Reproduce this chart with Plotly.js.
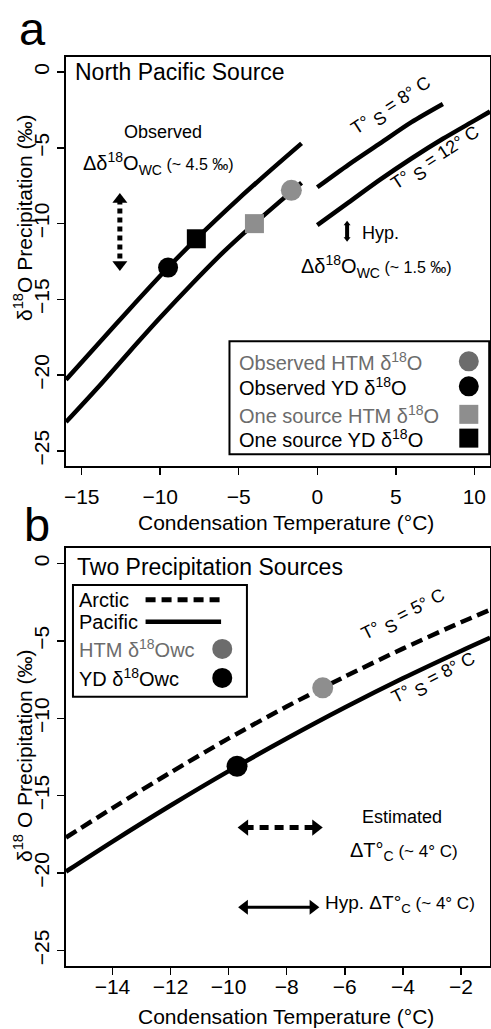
<!DOCTYPE html>
<html><head><meta charset="utf-8">
<script src="https://cdn.plot.ly/plotly-3.0.1.min.js"></script>
<style>html,body{margin:0;padding:0;background:#fff}</style>
</head><body><div id="chart" style="width:491px;height:1029px"></div>
<script>
// ---------- Panel a : North Pacific Source ----------
const aTs8LeftX  = [-16, -14, -12, -9.5, -7.7, -5, -3, -1];
const aTs8LeftY  = [-20.3, -18.0, -15.7, -12.9, -11.0, -8.35, -6.5, -4.7];
const aTs12LeftX = [-16, -14, -12, -10, -8, -6, -4, -2, -1];
const aTs12LeftY = [-23.1, -20.85, -18.5, -16.2, -14.0, -11.9, -10.0, -8.2, -7.3];
const aTs8RightX = [0, 2, 4, 6, 8];
const aTs8RightY = [-7.6, -6.1, -4.7, -3.3, -2.1];
const aTs12RightX = [0, 2, 4, 6, 8, 10, 11];
const aTs12RightY = [-10.1, -8.6, -7.1, -5.7, -4.4, -3.2, -2.6];
const aPointNames = ['Observed HTM δ<sup>18</sup>O', 'Observed YD δ<sup>18</sup>O', 'One source HTM δ<sup>18</sup>O', 'One source YD δ<sup>18</sup>O'];
const aPointX = [-1.65, -9.5, -4.0, -7.7];
const aPointY = [-7.8, -12.9, -10.0, -11.0];
const aObsArrowX = [-12.57, -12.57];
const aObsArrowY = [-8.4, -12.7];
const aHypArrowX = [1.9, 1.9];
const aHypArrowY = [-10.0, -11.0];
const aTicksX = [-15, -10, -5, 0, 5, 10];
const ticksY = [0, -5, -10, -15, -20, -25];

// ---------- Panel b : Two Precipitation Sources ----------
const bTempX = [-15.6, -14, -12, -10, -8, -6, -4, -2, -1];
const bArcticY  = [-17.7, -15.8, -13.5, -11.3, -9.24, -7.31, -5.5, -3.8, -3.0];
const bPacificY = [-19.9, -17.96, -15.63, -13.41, -11.31, -9.31, -7.42, -5.65, -4.8];
const bPointNames = ['HTM δ<sup>18</sup>Owc', 'YD δ<sup>18</sup>Owc'];
const bPointX = [-6.76, -9.71];
const bPointY = [-8.03, -13.1];
const bEstArrowX = [-9.45, -7.0];
const bEstArrowY = [-17.06, -17.06];
const bHypArrowX = [-9.45, -7.1];
const bHypArrowY = [-22.2, -22.2];
const bTicksX = [-14, -12, -10, -8, -6, -4, -2];

const FONT = '"Liberation Sans", Arial, Helvetica, sans-serif';
const GRAY = '#8e8e8e';
const GRAY_DARK = '#6c6c6c';
const LW = 4.5;
const CURVE = {color: '#000', width: LW, shape: 'spline', smoothing: 0.8};

// plot area pixel geometry
const L = 66, R = 490, T = 57, B = 966;
const px = p => (p - L) / (R - L);
const py = p => (B - p) / (B - T);

const traces = [
  {x: aTs8LeftX, y: aTs8LeftY, xaxis: 'x', yaxis: 'y', mode: 'lines', line: CURVE},
  {x: aTs12LeftX, y: aTs12LeftY, xaxis: 'x', yaxis: 'y', mode: 'lines', line: CURVE},
  {x: aTs8RightX, y: aTs8RightY, xaxis: 'x', yaxis: 'y', mode: 'lines', line: CURVE},
  {x: aTs12RightX, y: aTs12RightY, xaxis: 'x', yaxis: 'y', mode: 'lines', line: CURVE},
  {x: aPointX, y: aPointY, text: aPointNames, xaxis: 'x', yaxis: 'y', mode: 'markers',
   marker: {size: [21, 20, 19, 19], opacity: 1, symbol: ['circle', 'circle', 'square', 'square'],
            color: [GRAY, '#000', GRAY, '#000'], line: {width: 0}}},
  // observed dotted double arrow
  {x: aObsArrowX, y: aObsArrowY, xaxis: 'x', yaxis: 'y', mode: 'lines',
   line: {color: '#000', width: 5, dash: '5px,4px'}},
  {x: aObsArrowX, y: aObsArrowY, xaxis: 'x', yaxis: 'y', mode: 'markers',
   marker: {symbol: ['triangle-up', 'triangle-down'], size: 13, opacity: 1, color: '#000'}},
  // hyp small double arrow
  {x: aHypArrowX, y: aHypArrowY, xaxis: 'x', yaxis: 'y', mode: 'lines+markers',
   line: {color: '#000', width: 4}, marker: {symbol: ['triangle-up', 'triangle-down'], size: 6, opacity: 1, color: '#000'}},

  // panel b
  {x: bTempX, y: bArcticY, xaxis: 'x2', yaxis: 'y2', mode: 'lines', line: Object.assign({}, CURVE, {dash: '12px,6px'})},
  {x: bTempX, y: bPacificY, xaxis: 'x2', yaxis: 'y2', mode: 'lines', line: CURVE},
  {x: bPointX, y: bPointY, text: bPointNames, xaxis: 'x2', yaxis: 'y2', mode: 'markers',
   marker: {size: 21, opacity: 1, symbol: 'circle', color: [GRAY, '#000'], line: {width: 0}}},
  {x: bEstArrowX, y: bEstArrowY, xaxis: 'x2', yaxis: 'y2', mode: 'lines',
   line: {color: '#000', width: 5, dash: '9px,6px'}},
  {x: bEstArrowX, y: bEstArrowY, xaxis: 'x2', yaxis: 'y2', mode: 'markers',
   marker: {symbol: ['triangle-left', 'triangle-right'], size: 14, opacity: 1, color: '#000'}},
  {x: bHypArrowX, y: bHypArrowY, xaxis: 'x2', yaxis: 'y2', mode: 'lines+markers',
   line: {color: '#000', width: 3}, marker: {symbol: ['triangle-left', 'triangle-right'], size: 13, opacity: 1, color: '#000'}}
];

function ann(text, x, y, o) {
  return Object.assign({text: text, x: x, y: y, showarrow: false, xanchor: 'center', yanchor: 'middle',
    font: {family: FONT, size: 18, color: '#000'}}, o || {});
}
const A = {xref: 'x', yref: 'y'};
const Bx = {xref: 'x2', yref: 'y2'};
const P = {xref: 'paper', yref: 'paper'};
const TS = s => 'T° <span style="font-size:25px"><sub>S</sub></span> = ' + s + '° C';

const annotations = [
  ann('a', px(32), py(0), Object.assign({}, P, {yanchor: 'top', font: {family: FONT, size: 47, color: '#000'}})),
  ann('b', px(37), py(496), Object.assign({}, P, {yanchor: 'top', font: {family: FONT, size: 47, color: '#000'}})),
  ann('North Pacific Source', -15.55, 0.0, Object.assign({}, A, {xanchor: 'left', font: {family: FONT, size: 23, color: '#000'}})),
  ann('Two Precipitation Sources', -15.3, -0.2, Object.assign({}, Bx, {xanchor: 'left', font: {family: FONT, size: 23, color: '#000'}})),
  // axis titles
  ann('δ<sup>18</sup>O Precipitation (‰)', px(23), py(218), Object.assign({}, P, {textangle: -90, font: {family: FONT, size: 21, color: '#000'}})),
  ann('δ<sup>18</sup> O Precipitation (‰)', px(23), py(756), Object.assign({}, P, {textangle: -90, font: {family: FONT, size: 21, color: '#000'}})),
  ann('Condensation Temperature (°C)', px(286), py(522), Object.assign({}, P, {font: {family: FONT, size: 21, color: '#000'}})),
  ann('Condensation Temperature (°C)', px(286), py(1017), Object.assign({}, P, {font: {family: FONT, size: 21, color: '#000'}})),
  // panel a texts
  ann('Observed', -9.84, -3.94, A),
  ann('Δδ<sup>18</sup>O<sub>WC</sub><span style="font-size:16px"> (~ 4.5 ‰)</span>', -10.1, -6.0, Object.assign({}, A, {font: {family: FONT, size: 20, color: '#000'}})),
  ann('Hyp.', 2.75, -10.6, Object.assign({}, A, {xanchor: 'left'})),
  ann('Δδ<sup>18</sup>O<sub>WC</sub><span style="font-size:16px"> (~ 1.5 ‰)</span>', 3.8, -12.8, Object.assign({}, A, {font: {family: FONT, size: 20, color: '#000'}})),
  ann(TS(8), 4.76, -2.36, Object.assign({}, A, {textangle: -33})),
  ann(TS(12), 7.6, -5.78, Object.assign({}, A, {textangle: -33})),
  // panel a legend
  ann(aPointNames[0], -5.1, -19.09, Object.assign({}, A, {xanchor: 'left', font: {family: FONT, size: 20, color: GRAY_DARK}})),
  ann(aPointNames[1], -5.1, -20.74, Object.assign({}, A, {xanchor: 'left', font: {family: FONT, size: 20, color: '#000'}})),
  ann(aPointNames[2], -5.1, -22.59, Object.assign({}, A, {xanchor: 'left', font: {family: FONT, size: 20, color: GRAY_DARK}})),
  ann(aPointNames[3], -5.1, -24.16, Object.assign({}, A, {xanchor: 'left', font: {family: FONT, size: 20, color: '#000'}})),
  // panel b texts
  ann(TS(5), -3.96, -3.45, Object.assign({}, Bx, {textangle: -27})),
  ann(TS(8), -2.9, -7.5, Object.assign({}, Bx, {textangle: -27})),
  ann('Estimated', -4.02, -16.35, Bx),
  ann('ΔT°<sub>C</sub><span style="font-size:17px"> (~ 4° C)</span>', -3.96, -18.6, Object.assign({}, Bx, {font: {family: FONT, size: 20, color: '#000'}})),
  ann('Hyp. ΔT°<sub>C</sub><span style="font-size:17px"> (~ 4° C)</span>', -6.75, -22.0, Object.assign({}, Bx, {xanchor: 'left', font: {family: FONT, size: 19, color: '#000'}})),
  // panel b legend
  ann('Arctic', -15.22, -2.35, Object.assign({}, Bx, {xanchor: 'left', font: {family: FONT, size: 20, color: '#000'}})),
  ann('Pacific', -15.22, -3.77, Object.assign({}, Bx, {xanchor: 'left', font: {family: FONT, size: 20, color: '#000'}})),
  ann(bPointNames[0], -15.22, -5.52, Object.assign({}, Bx, {xanchor: 'left', font: {family: FONT, size: 20, color: GRAY_DARK}})),
  ann(bPointNames[1], -15.22, -7.39, Object.assign({}, Bx, {xanchor: 'left', font: {family: FONT, size: 20, color: '#000'}}))
];

function dot(xr, yr, x, y, r, type, color) {
  return {type: type, xref: xr, yref: yr, xsizemode: 'pixel', ysizemode: 'pixel',
    xanchor: x, yanchor: y, x0: -r, x1: r, y0: -r, y1: r, fillcolor: color, line: {width: 0}};
}
const shapes = [
  {type: 'rect', xref: 'x', yref: 'y', x0: -5.59, x1: 10.95, y0: -17.77, y1: -25.22, line: {color: '#000', width: 2}, fillcolor: 'rgba(0,0,0,0)'},
  dot('x', 'y', 9.65, -19.09, 10, 'circle', GRAY_DARK),
  dot('x', 'y', 9.65, -20.74, 10, 'circle', '#000'),
  dot('x', 'y', 9.65, -22.59, 9.5, 'rect', GRAY),
  dot('x', 'y', 9.65, -24.16, 9.5, 'rect', '#000'),
  {type: 'rect', xref: 'x2', yref: 'y2', x0: -15.36, x1: -9.37, y0: -1.39, y1: -8.61, line: {color: '#000', width: 2}, fillcolor: 'rgba(0,0,0,0)'},
  {type: 'line', xref: 'x2', yref: 'y2', x0: -12.86, x1: -10.26, y0: -2.35, y1: -2.35, line: {color: '#000', width: 5, dash: '10px,6px'}},
  {type: 'line', xref: 'x2', yref: 'y2', x0: -12.86, x1: -10.26, y0: -3.77, y1: -3.77, line: {color: '#000', width: 4.5}},
  dot('x2', 'y2', -10.22, -5.52, 10, 'circle', GRAY_DARK),
  dot('x2', 'y2', -10.22, -7.39, 10, 'circle', '#000')
];

const axBase = {showgrid: false, zeroline: false, showline: true, mirror: true, linecolor: '#000', linewidth: 2,
  ticks: 'outside', ticklen: 7, tickwidth: 1.5, tickcolor: '#000',
  tickfont: {family: FONT, size: 21, color: '#000'}, fixedrange: true};

const layout = {
  width: 491, height: 1029,
  margin: {l: L, r: 491 - R, t: T, b: 1029 - B, pad: 0},
  paper_bgcolor: '#fff', plot_bgcolor: '#fff',
  showlegend: false,
  font: {family: FONT, color: '#000'},
  xaxis: Object.assign({}, axBase, {domain: [0, 1], anchor: 'y', range: [-16, 11], tickvals: aTicksX, ticklabelstandoff: 4}),
  yaxis: Object.assign({}, axBase, {domain: [py(466), 1], anchor: 'x', range: [-26, 1], tickvals: ticksY, tickangle: -90, ticklabelstandoff: 0}),
  xaxis2: Object.assign({}, axBase, {domain: [0, 1], anchor: 'y2', range: [-15.6, -1], tickvals: bTicksX, ticklabelstandoff: -6}),
  yaxis2: Object.assign({}, axBase, {domain: [0, py(548)], anchor: 'x2', range: [-26, 1], tickvals: ticksY, tickangle: -90, ticklabelstandoff: 0}),
  annotations: annotations,
  shapes: shapes
};

Plotly.newPlot('chart', traces, layout, {staticPlot: true, displayModeBar: false});
</script></body></html>
